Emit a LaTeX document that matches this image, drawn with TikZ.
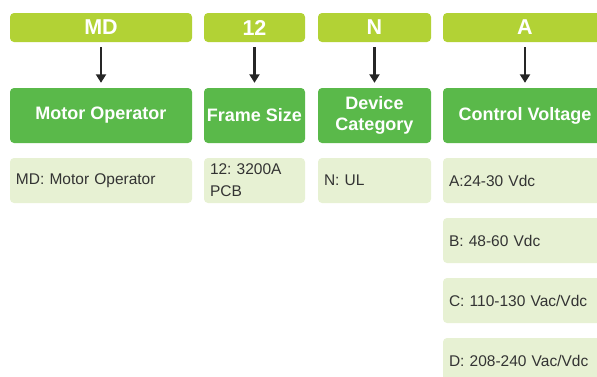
\documentclass[tikz,border=0pt]{standalone}
\usepackage{fontspec}
\setmainfont{Liberation Sans}
\usetikzlibrary{arrows.meta}
\definecolor{lime}{HTML}{B2D235}
\definecolor{midgreen}{HTML}{5AB94A}
\definecolor{pale}{HTML}{E7F1D3}
\definecolor{txt}{HTML}{333333}
\tikzset{
  codebox/.style={fill=lime, rounded corners=4pt, inner sep=0pt, text=white,
    font=\fontsize{21.5}{25}\selectfont\bfseries},
  titlebox/.style={fill=midgreen, rounded corners=4pt, inner sep=0pt, text=white, align=center,
    font=\fontsize{18}{20.5}\selectfont\bfseries},
  infobox/.style={fill=pale, rounded corners=4pt, inner xsep=6pt, inner ysep=0pt, text=txt, align=left,
    font=\fontsize{15.5}{22}\selectfont\frenchspacing},
  flowarrow/.style={draw=black!85, line width=2.2pt, -{Triangle[width=10pt,length=8.5pt]}, shorten <=5pt, shorten >=5pt}
}
\begin{document}
\begin{tikzpicture}[x=1pt,y=-1pt]
\useasboundingbox (0,0) rectangle (597,376);
\clip (0,0) rectangle (597,376);
% column 1
\node[codebox, minimum width=182pt, minimum height=29pt] (c1) at (101,27.5) {MD};
\node[titlebox, minimum width=182pt, minimum height=55pt] (t1) at (101,115.5) {Motor Operator};
\node[infobox, minimum width=182pt, minimum height=45pt, text width=170pt] (i1) at (101,180.5) {MD: Motor Operator};
% column 2
\node[codebox, minimum width=101pt, minimum height=29pt] (c2) at (254.5,27.5) {12};
\node[titlebox, minimum width=101pt, minimum height=55pt] (t2) at (254.5,115.5) {Frame Size};
\node[infobox, minimum width=101pt, minimum height=45pt, text width=89pt] (i2) at (254.5,180.5) {12: 3200A\\PCB};
% column 3
\node[codebox, minimum width=113pt, minimum height=29pt] (c3) at (374.5,27.5) {N};
\node[titlebox, minimum width=113pt, minimum height=55pt] (t3) at (374.5,115.5) {Device\\Category};
\node[infobox, minimum width=113pt, minimum height=45pt, text width=101pt] (i3) at (374.5,180.5) {N: UL};
% column 4
\node[codebox, minimum width=164pt, minimum height=29pt] (c4) at (525,27.5) {A};
\node[titlebox, minimum width=164pt, minimum height=55pt] (t4) at (525,115.5) {Control Voltage};
\node[infobox, minimum width=164pt, minimum height=45pt, text width=152pt] (i4a) at (525,180.5) {A:24-30 Vdc};
\node[infobox, minimum width=164pt, minimum height=45pt, text width=152pt] (i4b) at (525,240.5) {B: 48-60 Vdc};
\node[infobox, minimum width=164pt, minimum height=45pt, text width=152pt] (i4c) at (525,300.5) {C: 110-130 Vac/Vdc};
\node[infobox, minimum width=164pt, minimum height=45pt, text width=152pt] (i4d) at (525,360.5) {D: 208-240 Vac/Vdc};
% arrows
\draw[flowarrow] (c1) -- (t1);
\draw[flowarrow] (c2) -- (t2);
\draw[flowarrow] (c3) -- (t3);
\draw[flowarrow] (c4) -- (t4);
\end{tikzpicture}
\end{document}
